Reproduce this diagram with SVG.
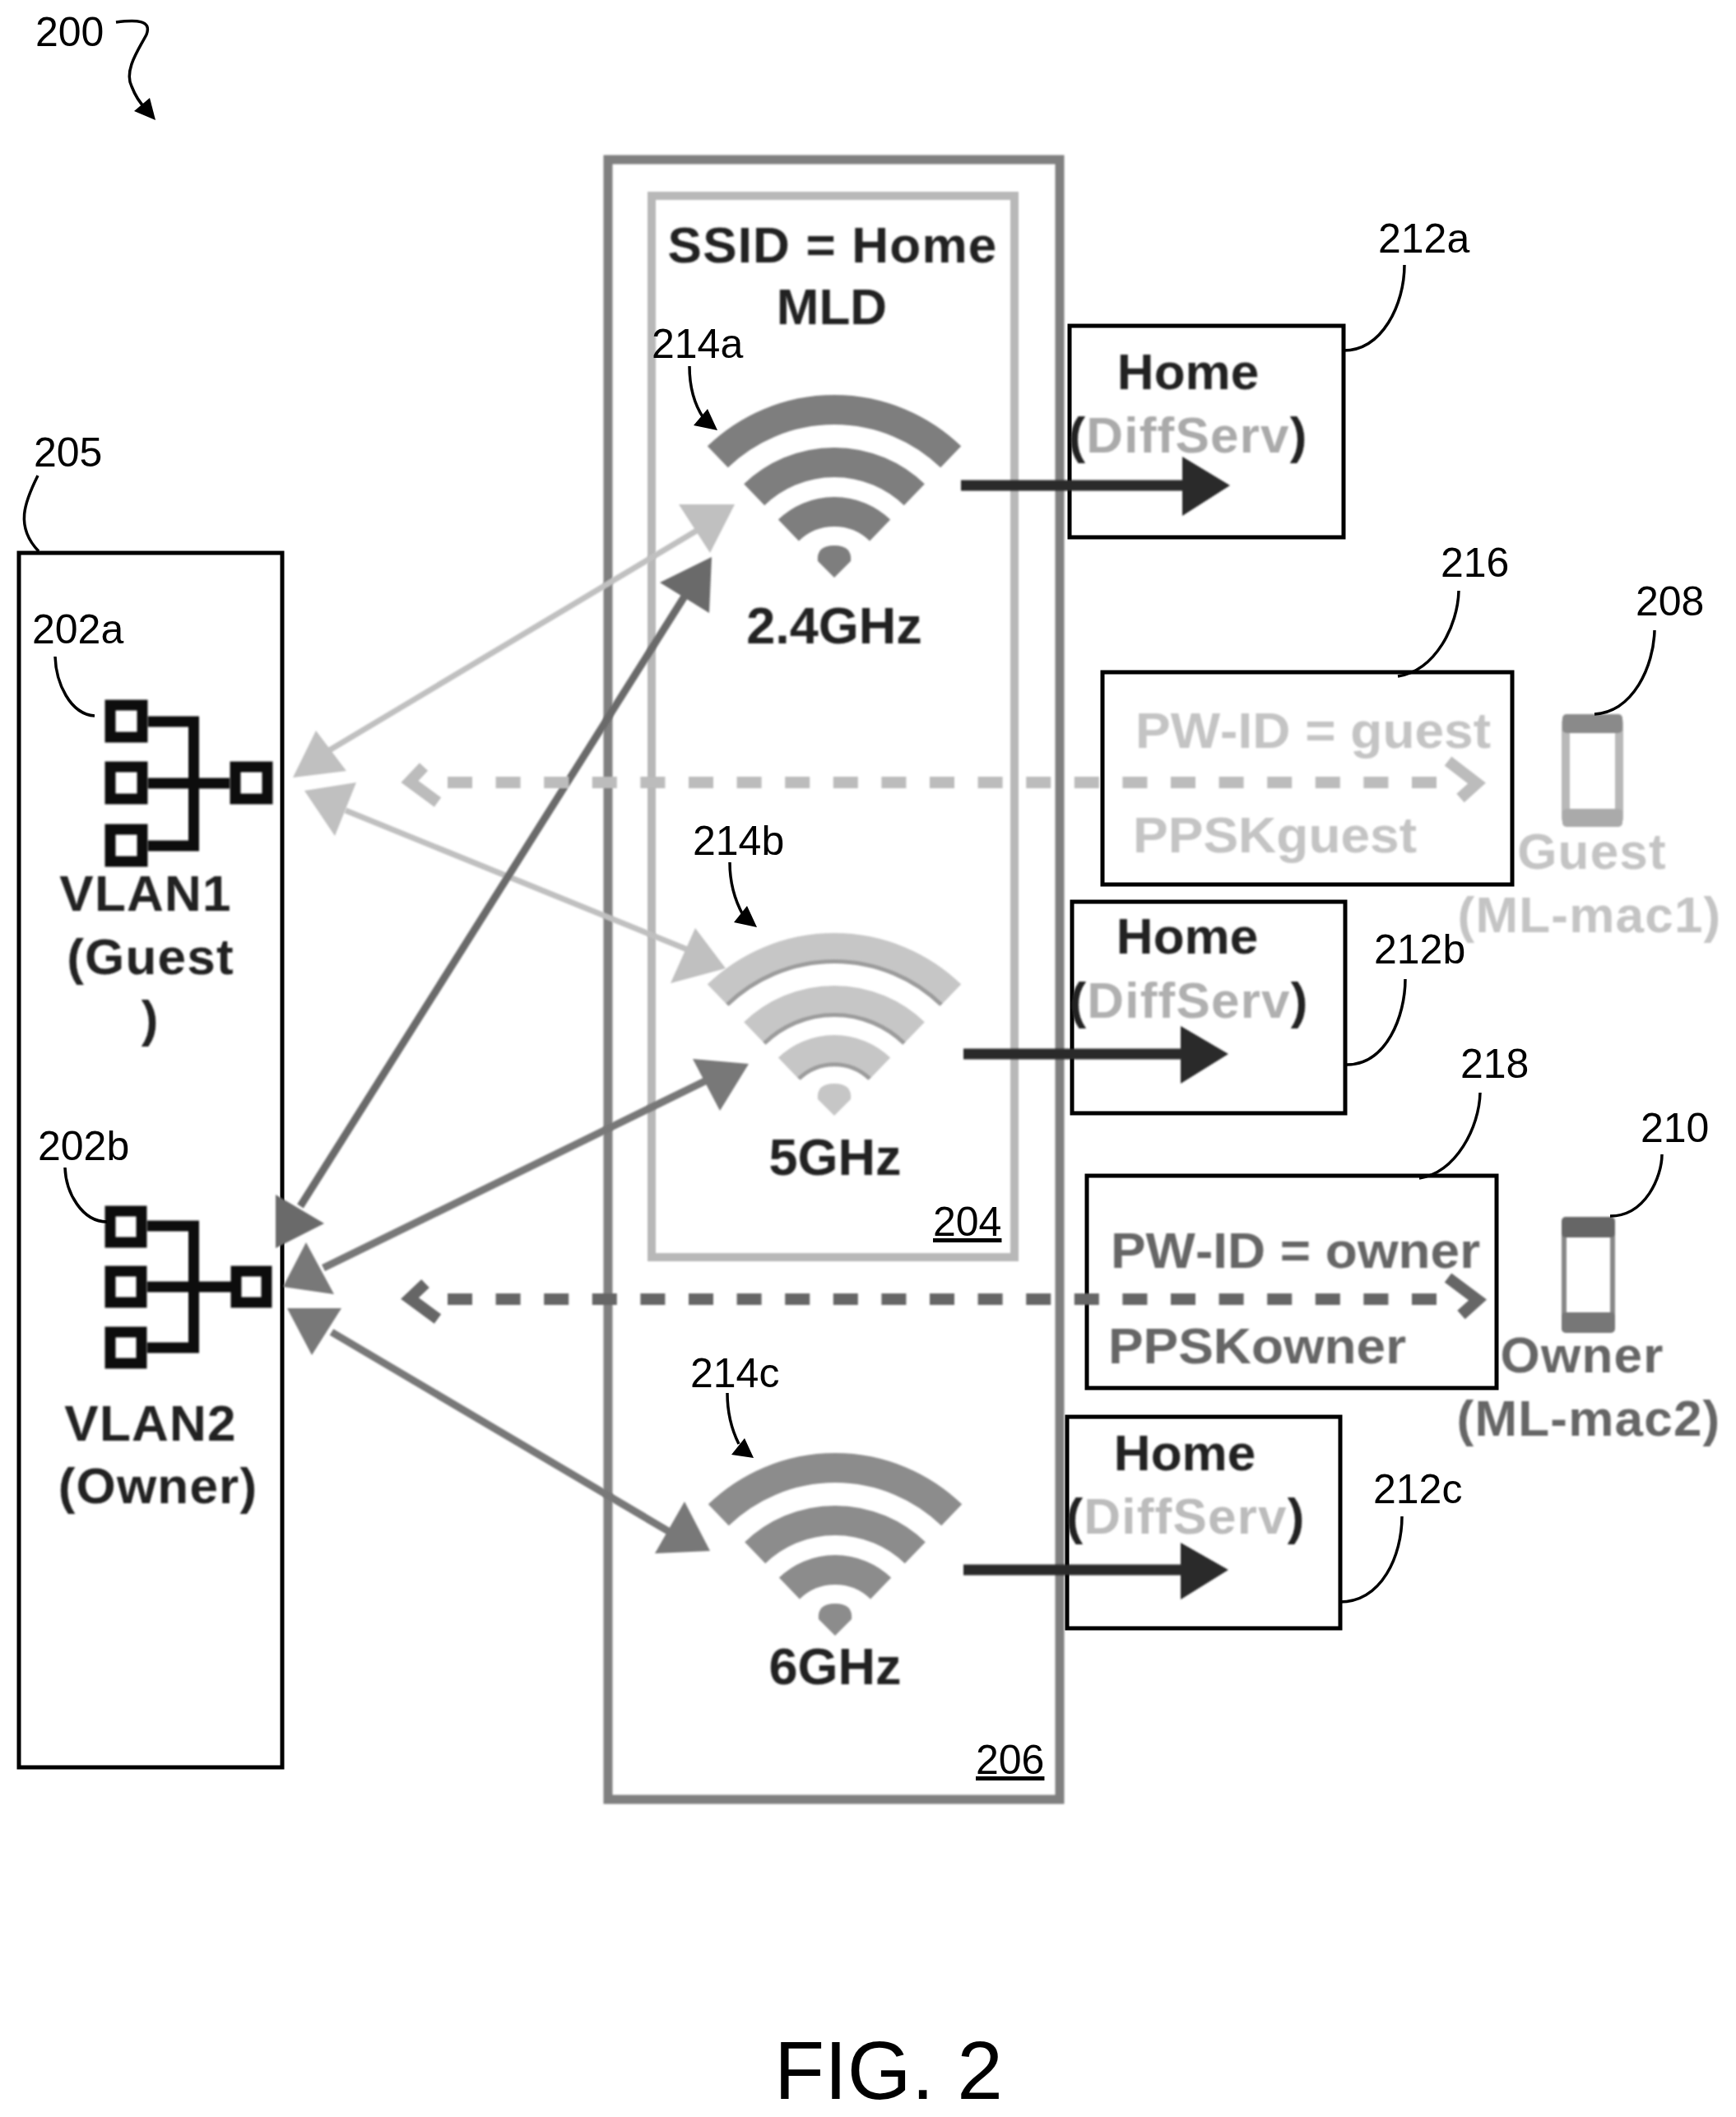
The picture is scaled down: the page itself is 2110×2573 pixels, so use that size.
<svg xmlns="http://www.w3.org/2000/svg" xmlns:xlink="http://www.w3.org/1999/xlink" width="2110" height="2573" viewBox="0 0 2110 2573">
<style>
text{font-family:"Liberation Sans",Arial,sans-serif}
.lab{font-size:50px;fill:#000}
.b{font-size:62px;font-weight:700;text-anchor:middle;font-kerning:none}
.ls{letter-spacing:1.2px}
.dk{fill:#222}
.g{fill:#c4c4c4}
.o{fill:#666}
.ds{fill:#aaa}
.box{fill:none;stroke:#000;stroke-width:5}
.lead{fill:none;stroke:#000;stroke-width:3.5}
.blk{fill:#000}
.net{fill:none;stroke:#111;stroke-width:13}
.da{fill:none;stroke-width:14;stroke-dasharray:30 28.6}
.chev{fill:none;stroke-width:14}
.arr{stroke-width:9}
</style>
<defs>
<filter id="soft" filterUnits="userSpaceOnUse" x="0" y="0" width="2110" height="2573"><feGaussianBlur stdDeviation="1.1"/></filter>
<g id="wifi" fill="none" stroke-width="36">
<path d="M-141.7 -146.7A204 204 0 0 1 141.7 -146.7"/>
<path d="M-97.3 -100.7A140 140 0 0 1 97.3 -100.7"/>
<path d="M-55.6 -57.5A80 80 0 0 1 55.6 -57.5"/>
</g>
<path id="dot" d="M0 0L-20 -20Q-22 -39 0 -39Q22 -39 20 -20Z" stroke="none"/>
</defs>
<rect width="2110" height="2573" fill="#fff"/>

<g id="node-206"><rect x="739" y="194" width="549" height="1993" fill="none" stroke="#808080" stroke-width="11" filter="url(#soft)"/>
<text class="lab" x="1186" y="2156" text-decoration="underline">206</text></g>
<g id="node-204"><rect x="792" y="238" width="441" height="1290" fill="none" stroke="#b8b8b8" stroke-width="10" filter="url(#soft)"/>
<text class="lab" x="1134" y="1502" text-decoration="underline">204</text>
<g filter="url(#soft)"><text class="b dk ls" x="1012" y="319">SSID = Home</text>
<text class="b dk" x="1011" y="394">MLD</text></g></g>
<g id="node-205"><rect class="box" x="23" y="672" width="320" height="1476"/>
<text class="lab" x="41" y="567">205</text></g>

<g id="node-202a"><g class="net" filter="url(#soft)">
<rect x="134" y="857" width="39" height="39"/><rect x="134" y="932" width="39" height="39"/><rect x="134" y="1008" width="39" height="39"/><rect x="286" y="932" width="39" height="39"/>
<path d="M180 877H235.500V1028H180M180 952H279"/></g>
<text class="lab" x="39" y="782">202a</text>
<g filter="url(#soft)"><text class="b dk ls" x="177" y="1107">VLAN1</text><text class="b dk ls" x="183" y="1184">(Guest</text><text class="b dk" x="182" y="1259">)</text></g></g>
<g id="node-202b"><g class="net" filter="url(#soft)">
<rect x="134" y="1472" width="38" height="38"/><rect x="134" y="1545" width="38" height="38"/><rect x="134" y="1619" width="38" height="38"/><rect x="287" y="1545" width="37" height="38"/>
<path d="M179 1490H235.500V1638H179M179 1564H281"/></g>
<text class="lab" x="46" y="1410">202b</text>
<g filter="url(#soft)"><text class="b dk ls" x="183" y="1751">VLAN2</text><text class="b dk ls" x="192" y="1827">(Owner)</text></g></g>

<g id="node-214a"><g filter="url(#soft)"><use xlink:href="#wifi" href="#wifi" x="1014" y="702" stroke="#7e7e7e"/><use xlink:href="#dot" href="#dot" x="1014" y="702" fill="#7e7e7e"/>
<text class="b dk" style="font-size:63px" x="1014" y="782">2.4GHz</text></g>
<text class="lab" x="792" y="435">214a</text></g>
<g id="node-214b"><g filter="url(#soft)"><use xlink:href="#wifi" href="#wifi" x="1014" y="1356" stroke="#c6c6c6"/><use xlink:href="#dot" href="#dot" x="1014" y="1356" fill="#c6c6c6"/>
<g fill="none" stroke="#9c9c9c" stroke-width="5"><path d="M-130 -135A187 187 0 0 1 130 -135" transform="translate(1014 1356)"/><path d="M-85 -88A122 122 0 0 1 85 -88" transform="translate(1014 1356)"/><path d="M-43 -45A62 62 0 0 1 43 -45" transform="translate(1014 1356)"/></g>
<text class="b dk" style="font-size:63px" x="1015" y="1428">5GHz</text></g>
<text class="lab" x="842" y="1039">214b</text></g>
<g id="node-214c"><g filter="url(#soft)"><use xlink:href="#wifi" href="#wifi" x="1015" y="1988" stroke="#8c8c8c"/><use xlink:href="#dot" href="#dot" x="1015" y="1988" fill="#8c8c8c"/>
<text class="b dk" style="font-size:63px" x="1015" y="2047">6GHz</text></g>
<text class="lab" x="839" y="1686">214c</text></g>

<g id="node-212a"><rect class="box" x="1300" y="396" width="333" height="257"/>
<text class="lab" x="1675" y="307">212a</text>
<g filter="url(#soft)"><text class="b dk" x="1444" y="473">Home</text><text class="b ls" x="1444" y="550" fill="#222">(<tspan class="ds">DiffServ</tspan>)</text></g></g>
<g id="node-212b"><rect class="box" x="1303" y="1096" width="332" height="257"/>
<text class="lab" x="1670" y="1171">212b</text>
<g filter="url(#soft)"><text class="b dk" x="1443" y="1159">Home</text><text class="b ls" x="1445" y="1237" fill="#222">(<tspan style="fill:#b0b0b0">DiffServ</tspan>)</text></g></g>
<g id="node-212c"><rect class="box" x="1297" y="1722" width="332" height="257"/>
<text class="lab" x="1669" y="1827">212c</text>
<g filter="url(#soft)"><text class="b dk" x="1440" y="1787">Home</text><text class="b ls" x="1441" y="1864" fill="#222">(<tspan style="fill:#bcbcbc">DiffServ</tspan>)</text></g></g>

<g id="node-216"><rect class="box" x="1340" y="817" width="498" height="258"/>
<text class="lab" x="1751" y="701">216</text>
<g filter="url(#soft)"><text class="b g" style="text-anchor:start" x="1380" y="909" textLength="432" lengthAdjust="spacingAndGlyphs">PW-ID = guest</text>
<text class="b g" style="text-anchor:start" x="1377" y="1036" textLength="345" lengthAdjust="spacingAndGlyphs">PPSKguest</text></g></g>
<g id="node-218"><rect class="box" x="1321" y="1429" width="498" height="258"/>
<text class="lab" x="1775" y="1310">218</text>
<g filter="url(#soft)"><text class="b o" style="text-anchor:start" x="1350" y="1541" textLength="449" lengthAdjust="spacingAndGlyphs">PW-ID = owner</text>
<text class="b o" style="text-anchor:start" x="1347" y="1657" textLength="362" lengthAdjust="spacingAndGlyphs">PPSKowner</text></g></g>

<g id="node-208"><g filter="url(#soft)"><rect x="1903" y="873" width="65" height="127" rx="6" fill="none" stroke="#b8b8b8" stroke-width="10"/>
<rect x="1899" y="868" width="73" height="23" rx="5" fill="#8a8a8a"/><rect x="1899" y="983" width="73" height="22" rx="5" fill="#aaa"/>
<text class="b g ls" x="1935" y="1056">Guest</text><text class="b g ls" x="1932" y="1133">(ML-mac1)</text></g>
<text class="lab" x="1988" y="748">208</text></g>
<g id="node-210"><g filter="url(#soft)"><rect x="1901" y="1484" width="59" height="131" rx="5" fill="none" stroke="#888" stroke-width="6"/>
<rect x="1898" y="1479" width="65" height="25" rx="5" fill="#666"/><rect x="1898" y="1595" width="65" height="25" rx="5" fill="#777"/>
<text class="b o ls" x="1923" y="1668">Owner</text><text class="b o ls" x="1931" y="1745">(ML-mac2)</text></g>
<text class="lab" x="1994" y="1388">210</text></g>

<g id="connectors">
<g class="lead">
<path d="M141 27C165 24 185 24 178 42C170 58 150 85 160 105C165 118 170 125 177 132"/>
<path d="M46 578C30 610 18 640 47 670"/>
<path d="M67 798C68 830 85 868 115 870"/>
<path d="M79 1419C80 1450 100 1485 130 1485"/>
<path d="M838 445C838 470 843 490 855 508"/>
<path d="M887 1048C887 1072 892 1092 903 1112"/>
<path d="M884 1693C884 1715 888 1735 898 1755"/>
<path d="M1707 322C1707 370 1680 426 1633 426"/>
<path d="M1773 718C1772 760 1745 815 1699 822"/>
<path d="M2011 766C2010 810 1985 865 1938 868"/>
<path d="M1708 1190C1708 1235 1685 1294 1637 1294"/>
<path d="M1799 1328C1798 1370 1770 1425 1725 1432"/>
<path d="M2020 1403C2020 1430 2000 1478 1957 1478"/>
<path d="M1704 1843C1704 1890 1680 1947 1628 1947"/>
</g>
<g class="blk"><path d="M189 146L163 135L182 119Z"/><path d="M872 523L843 517L860 497Z"/><path d="M920 1127L892 1121L908 1101Z"/><path d="M916 1772L889 1768L905 1748Z"/></g>

<g filter="url(#soft)">
<g stroke="#c0c0c0" fill="#c0c0c0"><path class="arr" style="stroke-width:7" d="M860 637L395 915"/><path class="arr" style="stroke-width:7" d="M420 985L850 1160"/>
<path stroke="none" d="M893 613L825 613L863 672Z"/><path stroke="none" d="M356 945L384 888L421 937Z"/><path stroke="none" d="M370 961L433 951L407 1016Z"/><path stroke="none" d="M882 1177L845 1128L815 1195Z"/></g>
<g stroke="#6a6a6a" fill="#6a6a6a"><path class="arr" d="M835 720L365 1466"/>
<path stroke="none" d="M865 677L802 708L862 745Z"/><path stroke="none" d="M335 1517L335 1452L394 1487Z"/></g>
<g stroke="#787878" fill="#787878"><path class="arr" d="M393 1541L863 1311"/><path class="arr" d="M403 1619L814 1862"/>
<path stroke="none" d="M910 1293L842 1287L875 1350Z"/><path stroke="none" d="M344 1564L372 1510L406 1573Z"/><path stroke="none" d="M349 1590L415 1590L379 1647Z"/><path stroke="none" d="M863 1885L832 1825L796 1888Z"/></g>
<g stroke="#bcbcbc"><path class="da" d="M544 951H1750"/><path class="chev" d="M515 932L498 950L532 975"/><path class="chev" d="M1760 925L1795 952L1775 970"/></g>
<g stroke="#666"><path class="da" d="M544 1579H1750"/><path class="chev" d="M517 1560L498 1578L532 1603"/><path class="chev" d="M1760 1553L1796 1580L1776 1598"/></g>
<g fill="#2a2a2a" stroke="#2a2a2a"><path d="M1168 590H1440" stroke-width="13"/><path stroke="none" d="M1495 590L1437 555V627Z"/>
<path d="M1171 1281H1440" stroke-width="13"/><path stroke="none" d="M1493 1281L1435 1247V1317Z"/>
<path d="M1171 1908H1440" stroke-width="13"/><path stroke="none" d="M1493 1908L1435 1875V1944Z"/></g>
</g>
</g>

<g id="labels-free"><text class="lab" x="43" y="56">200</text>
<text x="941" y="2551" font-size="100" fill="#000">FIG. 2</text></g>
</svg>
